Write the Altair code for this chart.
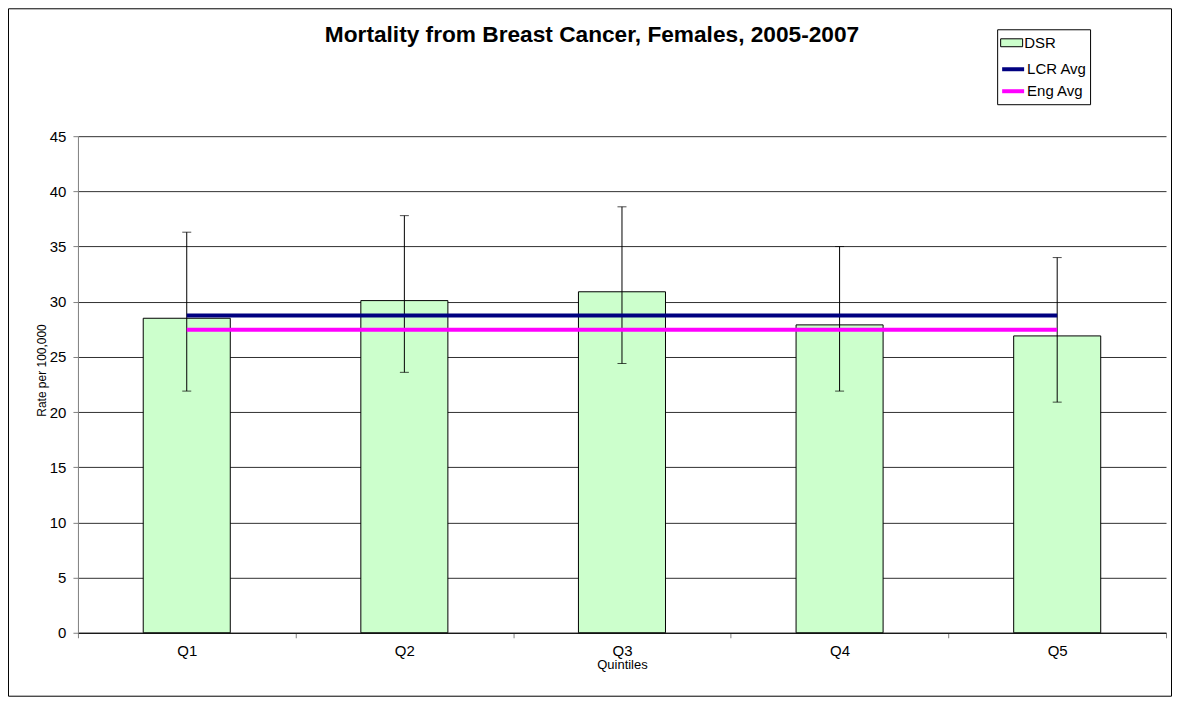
import altair as alt
import pandas as pd

# ---- data ----
quintiles = ["Q1", "Q2", "Q3", "Q4", "Q5"]
dsr = [28.5, 30.1, 30.9, 27.9, 26.9]
ci_lower = [21.9, 23.6, 24.4, 21.9, 20.9]
ci_upper = [36.3, 37.8, 38.6, 35.0, 34.0]
lcr_avg = 28.75
eng_avg = 27.45
bar_series = ["DSR"]
bar_colors = ["#CCFFCC"]
line_series = ["LCR Avg", "Eng Avg"]
line_colors = ["#000080", "#FF00FF"]
y_ticks = [0, 5, 10, 15, 20, 25, 30, 35, 40, 45]

FONT = "Liberation Sans"

bars_df = pd.DataFrame({
    "quintile": quintiles,
    "rate": dsr,
    "lower": ci_lower,
    "upper": ci_upper,
    "series": bar_series * len(quintiles),
})
avg_df = pd.DataFrame({
    "quintile": quintiles + quintiles,
    "rate": [lcr_avg] * len(quintiles) + [eng_avg] * len(quintiles),
    "series": [line_series[0]] * len(quintiles) + [line_series[1]] * len(quintiles),
})

W, H = 1089, 497

x_enc = alt.X(
    "quintile:N",
    sort=quintiles,
    scale=alt.Scale(paddingInner=0, paddingOuter=0),
    axis=alt.Axis(
        title="Quintiles",
        labelAngle=0,
        tickBand="extent",
        grid=False,
        domainColor="#000000",
        tickColor="#808080",
        tickSize=5,
        labelPadding=6,
        labelFontSize=15,
        titleFontSize=13,
        titleFontWeight="normal",
        titlePadding=0,
    ),
)
y_enc = alt.Y(
    "rate:Q",
    scale=alt.Scale(domain=[0, 45], nice=False),
    axis=alt.Axis(
        title="Rate per 100,000",
        values=y_ticks,
        grid=True,
        gridColor="#303030",
        gridWidth=1,
        domainColor="#808080",
        tickColor="#808080",
        tickSize=5,
        labelPadding=7,
        labelFontSize=15,
        titleFontSize=12,
        titleFontWeight="normal",
        titleX=-36,
        titleY=234,
        titleBaseline="middle",
        titleAnchor="middle",
    ),
)

common_legend = dict(
    title=None,
    orient="none",
    legendX=923,
    padding=0,
    labelFontSize=15,
    labelFont=FONT,
    labelColor="#000000",
    labelOffset=1,
    symbolSize=484,
    symbolOpacity=1,
)

fill_enc = alt.Fill(
    "series:N",
    scale=alt.Scale(domain=bar_series, range=bar_colors),
    legend=alt.Legend(
        legendY=-105,
        symbolType="M-1,-0.36L1,-0.36L1,0.36L-1,0.36Z",
        symbolStrokeColor="#000000",
        symbolStrokeWidth=1,
        **common_legend,
    ),
)
stroke_enc = alt.Stroke(
    "series:N",
    scale=alt.Scale(domain=line_series, range=line_colors),
    legend=alt.Legend(
        legendY=-80,
        symbolType="stroke",
        symbolStrokeWidth=4,
        rowPadding=1,
        **common_legend,
    ),
)

bars = alt.Chart(bars_df).mark_bar(
    width=alt.RelativeBandSize(0.4), stroke="#000000", strokeWidth=1, opacity=1
).encode(x=x_enc, y=y_enc, fill=fill_enc)

err_rule = alt.Chart(bars_df).mark_rule(color="#000000", strokeWidth=1).encode(
    x=x_enc, y="lower:Q", y2="upper:Q"
)
cap_lo = alt.Chart(bars_df).mark_tick(color="#000000", size=9, thickness=1).encode(
    x=x_enc, y=alt.Y("lower:Q")
)
cap_hi = alt.Chart(bars_df).mark_tick(color="#000000", size=9, thickness=1).encode(
    x=x_enc, y=alt.Y("upper:Q")
)

lines = alt.Chart(avg_df).mark_line(strokeWidth=4).encode(
    x=x_enc, y=y_enc, stroke=stroke_enc, detail="series:N"
)

frame = alt.Chart(pd.DataFrame({"f": [0]})).mark_rect(
    filled=False, stroke="#000000", strokeWidth=1
).encode(
    x=alt.value(-69.5), x2=alt.value(W + 5.5), y=alt.value(-127.5), y2=alt.value(H + 63.5)
)
legend_box = alt.Chart(pd.DataFrame({"f": [0]})).mark_rect(
    filled=False, stroke="#000000", strokeWidth=1
).encode(
    x=alt.value(920.5), x2=alt.value(1013.5), y=alt.value(-106.5), y2=alt.value(-31.5)
)

chart = alt.layer(bars, err_rule, cap_lo, cap_hi, lines, frame, legend_box).properties(
    width=W,
    height=H,
    title=alt.TitleParams(
        "Mortality from Breast Cancer, Females, 2005-2007",
        fontSize=22.7,
        fontWeight="bold",
        font=FONT,
        anchor="middle",
        baseline="alphabetic",
        dx=-30,
        offset=-56,
    ),
    autosize=alt.AutoSizeParams(type="none"),
    padding={"left": 70, "top": 128, "right": 6, "bottom": 64},
).configure(
    font=FONT,
).configure_view(
    stroke=None
).configure_axis(
    labelFont=FONT, titleFont=FONT, labelColor="#000000", titleColor="#000000"
)

chart.save("out.html", embed_options={"renderer": "svg", "actions": False})
